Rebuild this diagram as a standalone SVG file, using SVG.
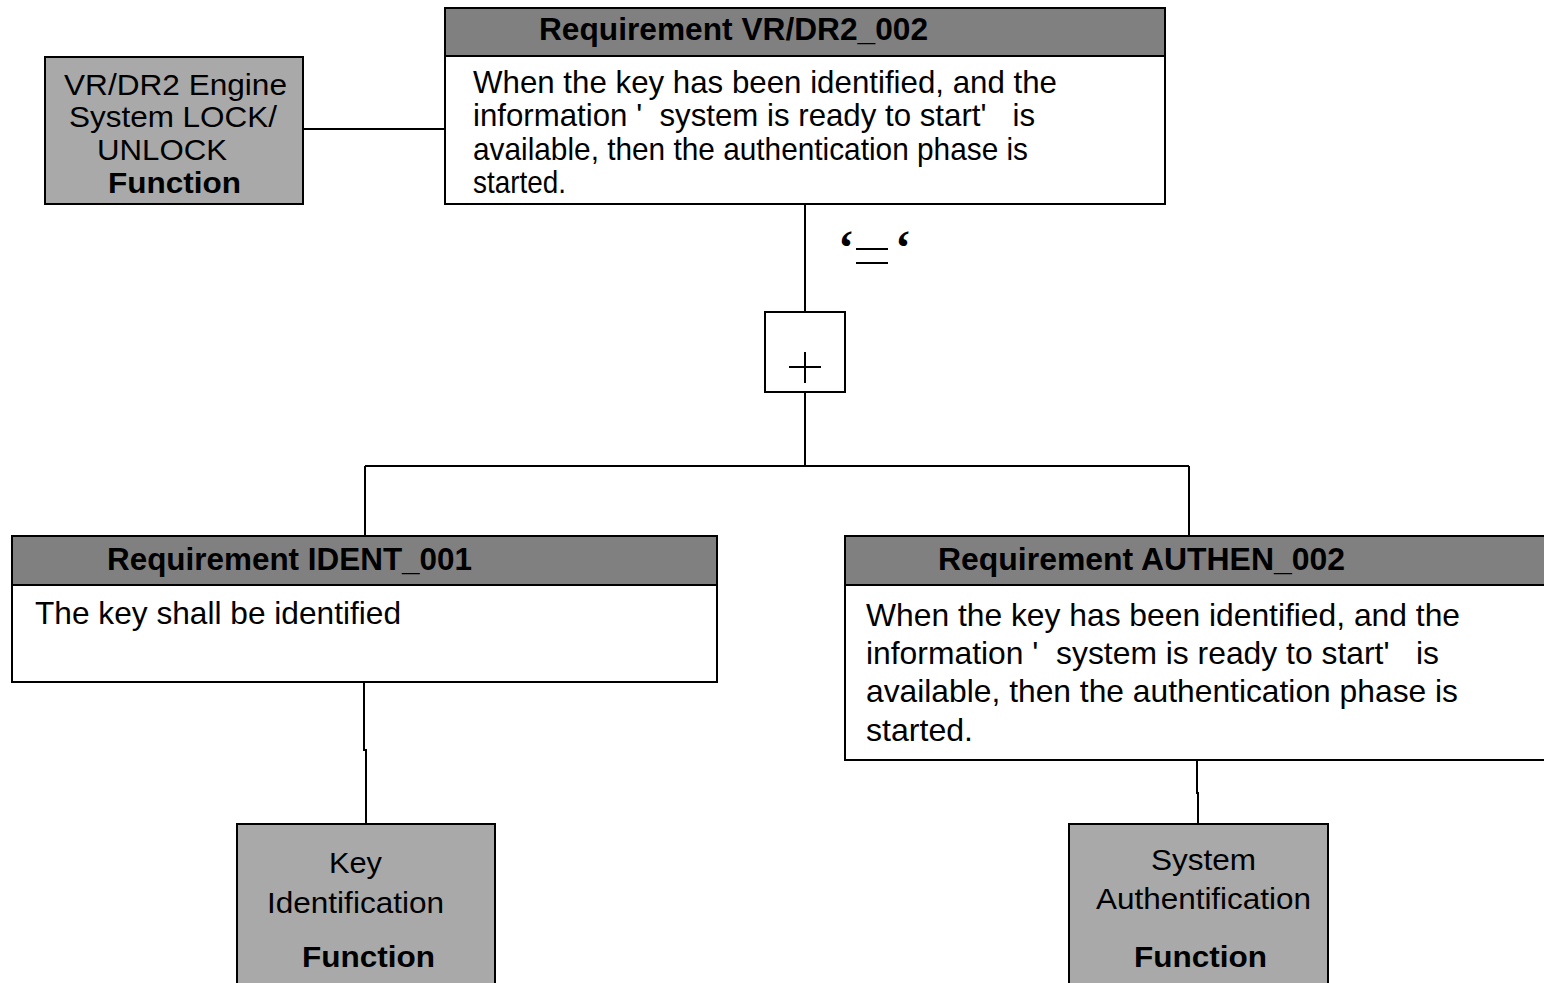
<svg xmlns="http://www.w3.org/2000/svg" width="1544" height="983" viewBox="0 0 1544 983">
<style>
.hdr{fill:#808080;stroke:#000;stroke-width:2}
.body{fill:#fff;stroke:#000;stroke-width:2}
.fn{fill:#a9a9a9;stroke:#000;stroke-width:2}
.ln{fill:none;stroke:#000;stroke-width:2}
text{font-family:"Liberation Sans",Arial,sans-serif;fill:#000}
.ht{font-size:31px;font-weight:bold}
.bt{font-size:32px}
.ft{font-size:29px}
.fb{font-size:30px;font-weight:bold}
.q{font-family:"Liberation Serif",serif;font-size:48px;font-weight:bold}
</style>
<rect width="1544" height="983" fill="#fff"/>
<g id="connectors">
<path class="ln" d="M303 129H445"/>
<path class="ln" d="M805 204V312"/>
<path class="ln" d="M805 392V466M365 466H1189M365 466V536M1189 466V536"/>
<path class="ln" d="M364 682V750H366V824"/>
<path class="ln" d="M1197 760V793H1198V824"/>
</g>
<g id="req-vrdr2">
<rect class="body" x="445" y="8" width="720" height="196"/>
<rect class="hdr" x="445" y="8" width="720" height="48"/>
<text class="ht" x="539" y="40" textLength="389" lengthAdjust="spacingAndGlyphs">Requirement VR/DR2_002</text>
<text class="bt" x="473" y="93" textLength="584" lengthAdjust="spacingAndGlyphs">When the key has been identified, and the</text>
<text class="bt" x="473" y="126" xml:space="preserve" textLength="562" lengthAdjust="spacingAndGlyphs">information '  system is ready to start'   is</text>
<text class="bt" x="473" y="160" textLength="555" lengthAdjust="spacingAndGlyphs">available, then the authentication phase is</text>
<text class="bt" x="473" y="193" textLength="93" lengthAdjust="spacingAndGlyphs">started.</text>
</g>
<g id="fn-lock">
<rect class="fn" x="45" y="57" width="258" height="147"/>
<text class="ft" x="64" y="95" textLength="223" lengthAdjust="spacingAndGlyphs">VR/DR2 Engine</text>
<text class="ft" x="69" y="127" textLength="208" lengthAdjust="spacingAndGlyphs">System LOCK/</text>
<text class="ft" x="97" y="160" textLength="130" lengthAdjust="spacingAndGlyphs">UNLOCK</text>
<text class="fb" x="108" y="193" textLength="133" lengthAdjust="spacingAndGlyphs">Function</text>
</g>
<g id="op-label">
<text class="q" x="838" y="264">‘</text>
<path class="ln" d="M856 249H888M856 263H888"/>
<text class="q" x="895" y="264">‘</text>
</g>
<g id="and-gate">
<rect class="body" x="765" y="312" width="80" height="80"/>
<path class="ln" d="M789 367H821M805 352V383"/>
</g>
<g id="req-ident">
<rect class="body" x="12" y="536" width="705" height="146"/>
<rect class="hdr" x="12" y="536" width="705" height="49"/>
<text class="ht" x="107" y="570" textLength="365" lengthAdjust="spacingAndGlyphs">Requirement IDENT_001</text>
<text class="bt" x="35" y="624" textLength="366" lengthAdjust="spacingAndGlyphs">The key shall be identified</text>
</g>
<g id="req-authen">
<rect class="body" x="845" y="536" width="710" height="224"/>
<rect class="hdr" x="845" y="536" width="710" height="49"/>
<text class="ht" x="938" y="570" textLength="407" lengthAdjust="spacingAndGlyphs">Requirement AUTHEN_002</text>
<text class="bt" x="866" y="626" textLength="594" lengthAdjust="spacingAndGlyphs">When the key has been identified, and the</text>
<text class="bt" x="866" y="664" xml:space="preserve" textLength="573" lengthAdjust="spacingAndGlyphs">information '  system is ready to start'   is</text>
<text class="bt" x="866" y="702" textLength="592" lengthAdjust="spacingAndGlyphs">available, then the authentication phase is</text>
<text class="bt" x="866" y="741" textLength="107" lengthAdjust="spacingAndGlyphs">started.</text>
</g>
<g id="fn-key">
<rect class="fn" x="237" y="824" width="258" height="170"/>
<text class="ft" x="329" y="873" textLength="53" lengthAdjust="spacingAndGlyphs">Key</text>
<text class="ft" x="267" y="913" textLength="177" lengthAdjust="spacingAndGlyphs">Identification</text>
<text class="fb" x="302" y="967" textLength="133" lengthAdjust="spacingAndGlyphs">Function</text>
</g>
<g id="fn-auth">
<rect class="fn" x="1069" y="824" width="259" height="170"/>
<text class="ft" x="1151" y="870" textLength="105" lengthAdjust="spacingAndGlyphs">System</text>
<text class="ft" x="1096" y="909" textLength="215" lengthAdjust="spacingAndGlyphs">Authentification</text>
<text class="fb" x="1134" y="967" textLength="133" lengthAdjust="spacingAndGlyphs">Function</text>
</g>
</svg>
